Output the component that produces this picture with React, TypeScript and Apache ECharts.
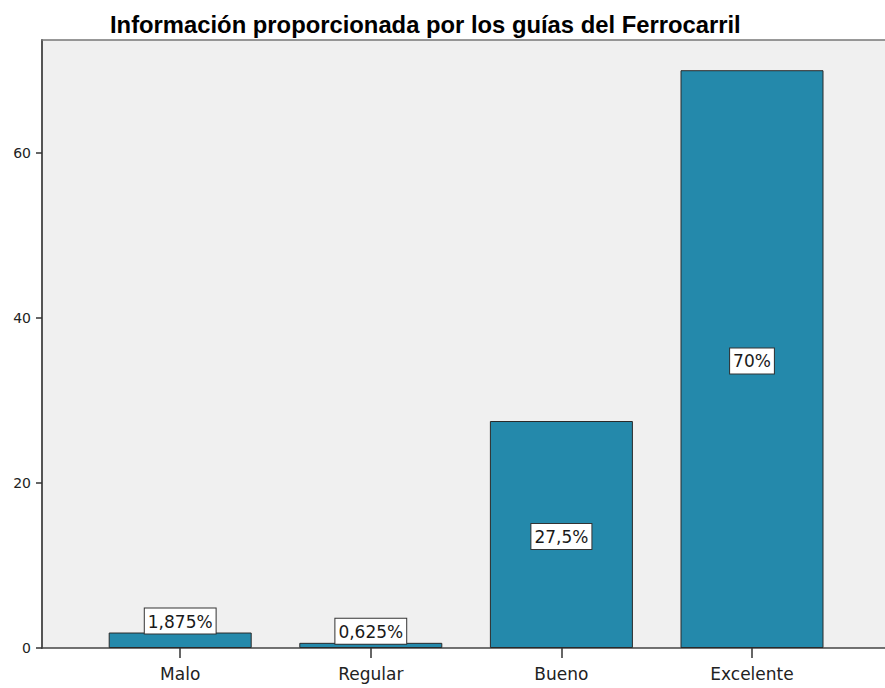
import React, { useEffect, useRef } from "react";
import * as echarts from "echarts";

const titleText = "Información proporcionada por los guías del Ferrocarril";
const categories = ["Malo", "Regular", "Bueno", "Excelente"];
const values = [1.875, 0.625, 27.5, 70];
const valueLabels = ["1,875%", "0,625%", "27,5%", "70%"];
const yMax = 73.66;
const yInterval = 20;

export default function App() {
  const ref = useRef<HTMLDivElement>(null);
  useEffect(() => {
    document.body.style.margin = "0";
    const chart = echarts.init(ref.current!, null, { renderer: "svg" });
    const sans = "DejaVu Sans";
    const labelBox = {
      show: true,
      formatter: (p: any) => valueLabels[p.dataIndex],
      fontFamily: sans,
      fontSize: 17,
      color: "#1a1a1a",
      backgroundColor: "#ffffff",
      borderColor: "#333333",
      borderWidth: 1,
      padding: [5, 3, 3, 3],
    };
    chart.setOption({
      animation: false,
      backgroundColor: "#ffffff",
      title: {
        text: titleText,
        left: 105,
        top: 7,
        textStyle: {
          fontFamily: "Liberation Sans",
          fontWeight: "bold",
          fontSize: 23.8,
          color: "#000000",
        },
      },
      grid: [
        {
          left: 42,
          top: 40,
          width: 870,
          height: 608,
          show: true,
          backgroundColor: "#f0f0f0",
          borderWidth: 0,
        },
        { left: 84.9, top: 40, width: 762.4, height: 608 },
      ],
      xAxis: [
        {
          gridIndex: 0,
          type: "value",
          min: 0,
          max: 1,
          axisLine: { show: true, lineStyle: { color: "#444444", width: 1.5 } },
          axisTick: { show: false },
          axisLabel: { show: false },
          splitLine: { show: false },
        },
        {
          gridIndex: 0,
          type: "value",
          position: "top",
          min: 0,
          max: 1,
          axisLine: { show: true, lineStyle: { color: "#777777", width: 1.5 } },
          axisTick: { show: false },
          axisLabel: { show: false },
          splitLine: { show: false },
        },
        {
          gridIndex: 1,
          type: "category",
          data: categories,
          axisLine: { show: false },
          axisTick: {
            show: true,
            alignWithLabel: true,
            length: 10,
            lineStyle: { color: "#333333", width: 1.5 },
          },
          axisLabel: {
            fontFamily: sans,
            fontSize: 17,
            color: "#222222",
            margin: 17,
          },
        },
      ],
      yAxis: [
        {
          gridIndex: 0,
          type: "value",
          min: 0,
          max: yMax,
          interval: yInterval,
          axisLine: { show: true, lineStyle: { color: "#555555", width: 2 } },
          axisTick: { show: true, length: 6, lineStyle: { color: "#333333", width: 1.5 } },
          axisLabel: {
            fontFamily: sans,
            fontSize: 14,
            color: "#222222",
            margin: 11,
            showMaxLabel: false,
          },
          splitLine: { show: false },
        },
        {
          gridIndex: 1,
          type: "value",
          min: 0,
          max: yMax,
          show: false,
          splitLine: { show: false },
        },
      ],
      series: [
        {
          type: "bar",
          xAxisIndex: 2,
          yAxisIndex: 1,
          barWidth: 143,
          data: values.map((v) => ({
            value: v,
            label:
              v < 10
                ? { ...labelBox, position: "top", distance: -1 }
                : { ...labelBox, position: "inside", offset: [0, 2] },
          })),
          itemStyle: {
            color: "#2489ab",
            borderColor: "#2a2a2a",
            borderWidth: 1,
          },
        },
      ],
    });
    return () => chart.dispose();
  }, []);
  return <div ref={ref} style={{ width: 885, height: 688 }} />;
}
